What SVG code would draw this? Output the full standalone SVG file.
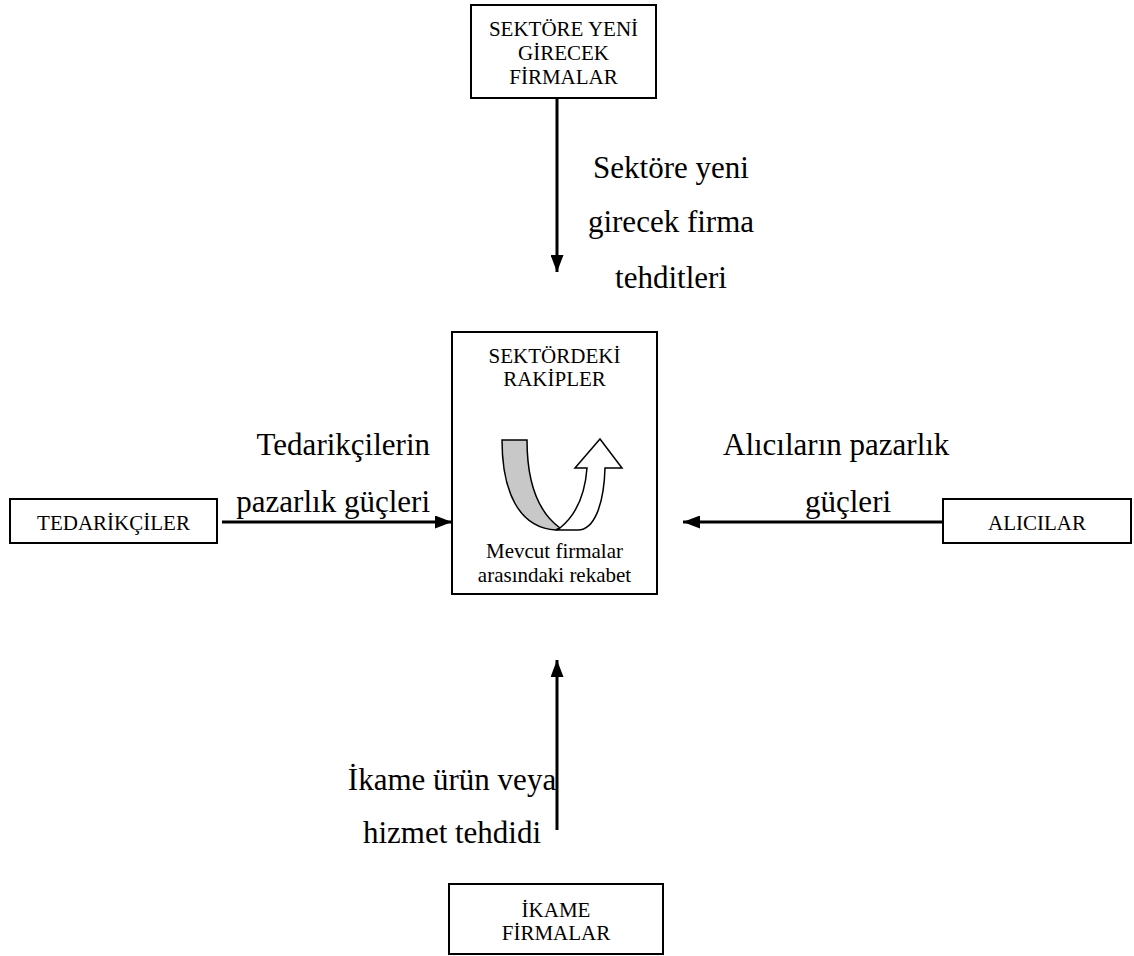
<svg xmlns="http://www.w3.org/2000/svg" width="1134" height="956" viewBox="0 0 1134 956">
  <style>
    .box { fill: #ffffff; stroke: #000000; stroke-width: 2; }
    .small { font-family: "Liberation Serif", "Times New Roman", serif; font-size: 21px; fill: #000000; text-anchor: middle; }
    .big { font-family: "Liberation Serif", "Times New Roman", serif; font-size: 31px; fill: #000000; }
    .conn { stroke: #000000; stroke-width: 3; fill: none; }
    .head { fill: #000000; }
  </style>
  <defs>
    <marker id="arrow" viewBox="0 0 17 13" refX="17" refY="6.5" markerWidth="17" markerHeight="13" markerUnits="userSpaceOnUse" orient="auto">
      <path class="head" d="M0,0 L17,6.5 L0,13 Z"/>
    </marker>
  </defs>
  <rect width="1134" height="956" fill="#ffffff"/>

  <!-- Force labels -->
  <g id="labels">
    <text class="big" text-anchor="middle" x="671" y="178">Sektöre yeni</text>
    <text class="big" text-anchor="middle" x="671" y="232">girecek firma</text>
    <text class="big" text-anchor="middle" x="671" y="288">tehditleri</text>
    <text class="big" text-anchor="end" x="430" y="455">Tedarikçilerin</text>
    <text class="big" text-anchor="end" x="430" y="512">pazarlık güçleri</text>
    <text class="big" x="723" y="455">Alıcıların pazarlık</text>
    <text class="big" x="805" y="512">güçleri</text>
    <text class="big" text-anchor="middle" x="452" y="790">İkame ürün veya</text>
    <text class="big" text-anchor="middle" x="452" y="843">hizmet tehdidi</text>
  </g>

  <!-- Connectors -->
  <g id="connectors">
    <line class="conn" x1="557" y1="98" x2="557" y2="272" marker-end="url(#arrow)"/>
    <line class="conn" x1="222" y1="522" x2="452" y2="522" marker-end="url(#arrow)"/>
    <line class="conn" x1="943" y1="522" x2="683" y2="522" marker-end="url(#arrow)"/>
    <line class="conn" x1="557" y1="830" x2="557" y2="660" marker-end="url(#arrow)"/>
  </g>

  <g id="node-new-entrants">
    <rect class="box" x="471" y="5" width="185" height="93"/>
    <text class="small" x="563.5" y="36">SEKTÖRE YENİ</text>
    <text class="small" x="563.5" y="60">GİRECEK</text>
    <text class="small" x="563.5" y="84">FİRMALAR</text>
  </g>

  <g id="node-rivals">
    <rect class="box" x="452" y="332" width="205" height="262"/>
    <text class="small" x="554.5" y="363">SEKTÖRDEKİ</text>
    <text class="small" x="554.5" y="386">RAKİPLER</text>
    <!-- U-turn arrow: grey descending band, white rising arrow -->
    <path d="M502,440 L527,440 C527,482 538,512 560,528 L556,530 C518,528 502,490 502,440 Z" fill="#c8c8c8" stroke="#000000" stroke-width="1.5"/>
    <path d="M560,528 C576,515 585,495 587,468 L575,468 L600,439 L622,468 L605,468 C604,505 594,530 578,530 L556,530 Z" fill="#ffffff" stroke="#000000" stroke-width="1.5"/>
    <text class="small" x="554.5" y="558">Mevcut firmalar</text>
    <text class="small" x="554.5" y="582">arasındaki rekabet</text>
  </g>

  <g id="node-suppliers">
    <rect class="box" x="10" y="499" width="207" height="44"/>
    <text class="small" x="113.5" y="530">TEDARİKÇİLER</text>
  </g>

  <g id="node-buyers">
    <rect class="box" x="943" y="499" width="188" height="44"/>
    <text class="small" x="1037" y="530">ALICILAR</text>
  </g>

  <g id="node-substitutes">
    <rect class="box" x="449" y="884" width="214" height="70"/>
    <text class="small" x="556" y="917">İKAME</text>
    <text class="small" x="556" y="940">FİRMALAR</text>
  </g>
</svg>
